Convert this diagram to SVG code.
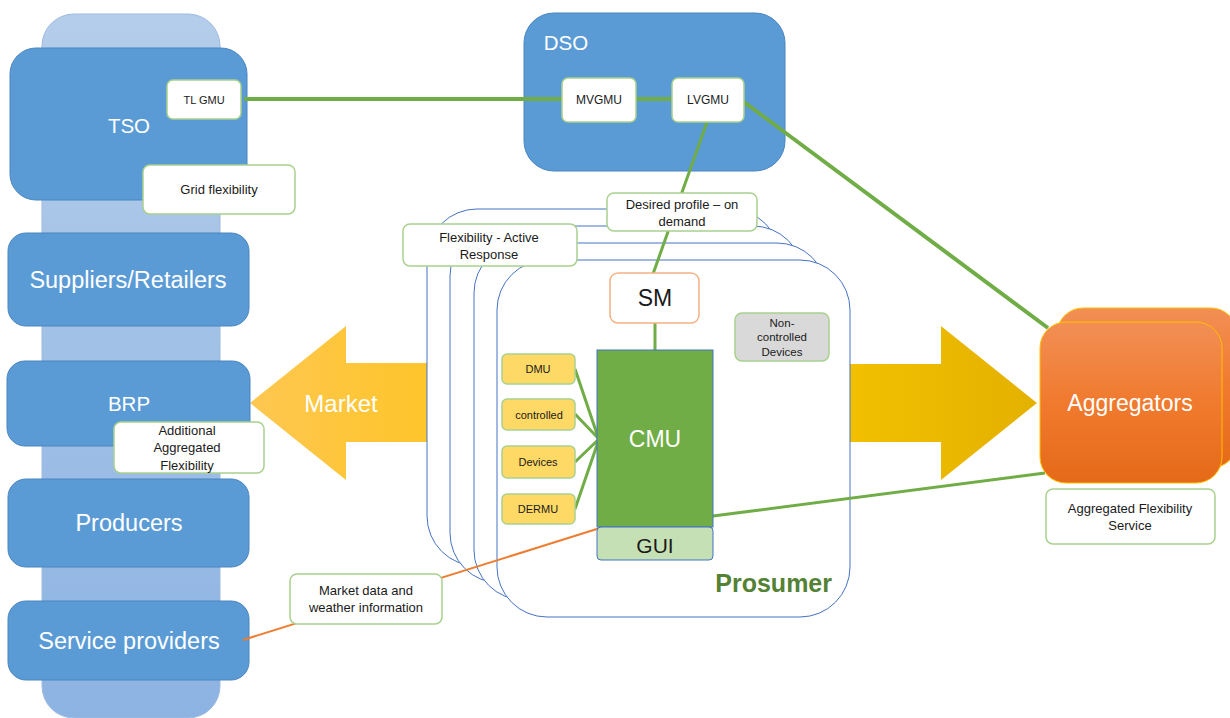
<svg xmlns="http://www.w3.org/2000/svg" width="1230" height="718" viewBox="0 0 1230 718">
<defs>
<linearGradient id="colG" x1="0" y1="0" x2="0" y2="1">
<stop offset="0" stop-color="#b4cdea"/>
<stop offset="1" stop-color="#8db3e2"/>
</linearGradient>
<linearGradient id="mktL" x1="0" y1="0" x2="1" y2="0">
<stop offset="0" stop-color="#fdc752"/>
<stop offset="0.5" stop-color="#fec63c"/>
<stop offset="1" stop-color="#fec52c"/>
</linearGradient>
<linearGradient id="mktR" x1="0" y1="0" x2="1" y2="0">
<stop offset="0" stop-color="#f2c000"/>
<stop offset="1" stop-color="#e3b100"/>
</linearGradient>
<linearGradient id="aggG" x1="0" y1="0" x2="0" y2="1">
<stop offset="0" stop-color="#f28f55"/>
<stop offset="0.5" stop-color="#f07a2e"/>
<stop offset="1" stop-color="#e56a18"/>
</linearGradient>
<style>
.actor{fill:#5b9bd5;stroke:#4a85bf;stroke-width:1}
.big{font-family:"Liberation Sans",Arial,sans-serif;fill:#ffffff;text-anchor:middle;dominant-baseline:central}
.lbl{fill:#ffffff;stroke:#a9d18e;stroke-width:1.5}
.sm{font-family:"Liberation Sans",Arial,sans-serif;fill:#1a1a1a;text-anchor:middle;dominant-baseline:central;font-size:13px}
.s11{font-size:11px}
.s12{font-size:12px}
.s115{font-size:11.5px}
.s21{font-size:21px}
.s23{font-size:23px}
.pro{fill:#ffffff;stroke:#4472c4;stroke-width:1}
.yel{fill:#ffd966;stroke:#a9d18e;stroke-width:1.5}
.gl{stroke:#70ad47;stroke-width:4;fill:none}
.gl3{stroke:#70ad47;stroke-width:3;fill:none}
.ol{stroke:#ed7d31;stroke-width:2;fill:none}
</style>
</defs>
<rect width="1230" height="718" fill="#ffffff"/>

<g id="column">
<rect x="42" y="14" width="178" height="704" rx="32" fill="url(#colG)" stroke="#9dbbe0" stroke-width="1"/>
</g>

<g id="market-left">
<polygon points="250,403 346,326 346,363 427,363 427,442 346,442 346,480" fill="url(#mktL)"/>
<text class="big" x="341" y="403" font-size="24">Market</text>
</g>
<g id="market-right">
<polygon points="848,364 941,364 941,326 1037,403 941,480 941,442 848,442" fill="url(#mktR)"/>
</g>

<g id="tso">
<rect class="actor" x="10" y="48" width="237" height="152" rx="26"/>
<text class="big" x="129" y="125" font-size="20.5">TSO</text>
</g>
<g id="suppliers">
<rect class="actor" x="8" y="233" width="241" height="93" rx="18"/>
<text class="big" x="128" y="280" font-size="23.5">Suppliers/Retailers</text>
</g>
<g id="brp">
<rect class="actor" x="7" y="361" width="243" height="85" rx="18"/>
<text class="big" x="129" y="403" font-size="20.5">BRP</text>
</g>
<g id="producers">
<rect class="actor" x="8" y="479" width="241" height="88" rx="18"/>
<text class="big" x="129" y="523" font-size="23.5">Producers</text>
</g>
<g id="service-providers">
<rect class="actor" x="8" y="601" width="241" height="79" rx="18"/>
<text class="big" x="129" y="641" font-size="23.5">Service providers</text>
</g>
<g id="dso">
<rect class="actor" x="524" y="13" width="261" height="158" rx="30"/>
<text class="big" x="566" y="42" font-size="20.5">DSO</text>
</g>

<g id="prosumer">
<rect class="pro" x="427" y="209" width="353" height="357" rx="50"/>
<rect class="pro" x="450" y="226" width="353" height="357" rx="50"/>
<rect class="pro" x="474" y="243" width="353" height="357" rx="50"/>
<rect class="pro" x="497" y="260" width="353" height="357" rx="50"/>
<text x="832" y="583" font-family="'Liberation Sans',Arial,sans-serif" font-weight="bold" font-size="25" fill="#548235" text-anchor="end" dominant-baseline="central">Prosumer</text>
</g>

<g id="connectors">
<line class="ol" x1="243" y1="640" x2="600" y2="528"/>
<line class="gl" x1="244" y1="99" x2="562" y2="99"/>
<line class="gl" x1="636" y1="99" x2="672" y2="99"/>
<line class="gl" x1="744" y1="102" x2="1048" y2="328"/>
<line class="gl3" x1="713" y1="516" x2="1045" y2="473"/>
<line class="gl3" x1="707" y1="122" x2="653" y2="274"/>
<line class="gl3" x1="655" y1="323" x2="655" y2="350"/>
<line class="gl3" x1="575" y1="369" x2="598" y2="437"/>
<line class="gl3" x1="575" y1="414" x2="598" y2="438"/>
<line class="gl3" x1="575" y1="462" x2="598" y2="440"/>
<line class="gl3" x1="575" y1="509" x2="598" y2="442"/>
</g>

<g id="tlgmu">
<rect class="lbl" x="167" y="80" width="74" height="39" rx="6"/>
<text class="sm s11" x="204" y="100">TL GMU</text>
</g>
<g id="grid-flex">
<rect class="lbl" x="143" y="165" width="152" height="49" rx="7"/>
<text class="sm" x="219" y="189">Grid flexibility</text>
</g>
<g id="add-agg-flex">
<rect class="lbl" x="114" y="422" width="150" height="51" rx="7"/>
<text class="sm" x="187" y="430">Additional</text>
<text class="sm" x="187" y="447">Aggregated</text>
<text class="sm" x="187" y="465">Flexibility</text>
</g>
<g id="market-data">
<rect class="lbl" x="290" y="574" width="152" height="50" rx="7"/>
<text class="sm" x="366" y="590">Market data and</text>
<text class="sm" x="366" y="607">weather information</text>
</g>
<g id="mvgmu">
<rect class="lbl" x="562" y="78" width="74" height="44" rx="6"/>
<text class="sm s12" x="599" y="100">MVGMU</text>
</g>
<g id="lvgmu">
<rect class="lbl" x="672" y="78" width="72" height="44" rx="6"/>
<text class="sm s12" x="708" y="100">LVGMU</text>
</g>

<g id="flex-active">
<rect class="lbl" x="403" y="224" width="174" height="42" rx="7"/>
<text class="sm" x="489" y="237">Flexibility - Active</text>
<text class="sm" x="489" y="254">Response</text>
</g>
<g id="desired-profile">
<rect class="lbl" x="607" y="193" width="150" height="38" rx="7"/>
<text class="sm" x="682" y="204">Desired profile – on</text>
<text class="sm" x="682" y="221">demand</text>
</g>

<g id="sm">
<rect x="610" y="273" width="89" height="50" rx="8" fill="#ffffff" stroke="#f4b183" stroke-width="1.5"/>
<text class="sm s23" x="655" y="298">SM</text>
</g>
<g id="non-controlled">
<rect x="735" y="313" width="94" height="48" rx="7" fill="#d9d9d9" stroke="#a9d18e" stroke-width="1.5"/>
<text class="sm s115" x="782" y="323">Non-</text>
<text class="sm s115" x="782" y="337">controlled</text>
<text class="sm s115" x="782" y="352">Devices</text>
</g>
<g id="cmu">
<rect x="597" y="350" width="116" height="177" fill="#70ad47" stroke="#4472c4" stroke-width="1"/>
<text class="big" x="655" y="439" font-size="23">CMU</text>
</g>
<g id="gui">
<rect x="597" y="527" width="116" height="33" rx="4" fill="#c5e0b4" stroke="#4472c4" stroke-width="1"/>
<text class="sm s21" x="655" y="545">GUI</text>
</g>
<g id="dmu">
<rect class="yel" x="502" y="354" width="73" height="30" rx="5"/>
<text class="sm s11" x="538" y="369">DMU</text>
</g>
<g id="controlled">
<rect class="yel" x="502" y="399" width="73" height="31" rx="5"/>
<text class="sm s11" x="539" y="415">controlled</text>
</g>
<g id="devices">
<rect class="yel" x="502" y="446" width="73" height="32" rx="5"/>
<text class="sm s11" x="538" y="462">Devices</text>
</g>
<g id="dermu">
<rect class="yel" x="502" y="494" width="73" height="30" rx="5"/>
<text class="sm s11" x="538" y="509">DERMU</text>
</g>

<g id="aggregators">
<rect x="1057" y="308" width="180" height="160" rx="26" fill="url(#aggG)" stroke="#ffc000" stroke-width="1"/>
<rect x="1040" y="322" width="182" height="161" rx="26" fill="url(#aggG)" stroke="#ffc000" stroke-width="1"/>
<text class="big" x="1130" y="403" font-size="23">Aggregators</text>
</g>
<g id="agg-flex-service">
<rect class="lbl" x="1046" y="489" width="169" height="55" rx="7"/>
<text class="sm" x="1130" y="508">Aggregated  Flexibility</text>
<text class="sm" x="1130" y="525">Service</text>
</g>
</svg>
